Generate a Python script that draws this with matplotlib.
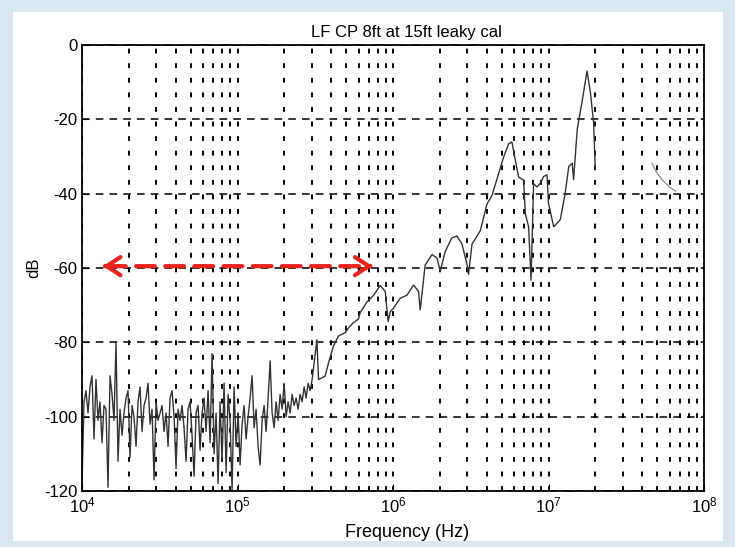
import matplotlib.pyplot as plt
from matplotlib.patches import Rectangle
import numpy as np

plt.rcParams['font.family'] = ['Liberation Sans', 'DejaVu Sans']
plt.rcParams['axes.unicode_minus'] = False

title = 'LF CP 8ft at 15ft leaky cal'

# noisy floor, 10 kHz .. ~300 kHz
noise_db = [-118, -96, -93, -99, -92, -89, -106, -90, -101, -96,
            -107, -97, -98, -119, -89, -94, -101, -80, -112, -98,
            -105, -99, -95, -93, -111, -97, -100, -108, -96, -92,
            -104, -97, -95, -91, -102, -98, -117, -96, -101, -99,
            -97, -104, -99, -108, -95, -93, -100, -114, -98, -101,
            -97, -103, -112, -98, -96, -105, -116, -99, -97, -109,
            -99, -95, -104, -93, -107, -83, -110, -99, -118, -96,
            -112, -91, -115, -94, -101, -120, -92, -108, -99, -113,
            -102, -97, -106, -100, -95, -89, -103, -98, -108, -113,
            -101, -97, -104, -95, -85, -99, -103, -96, -101, -94,
            -98, -91, -100, -96, -99, -94, -97, -95, -98, -94,
            -96, -92, -95, -91, -93, -90]
noise_hz = np.logspace(4, 5.48, len(noise_db))

# rising part up to the main resonance
rise_hz = [3.24e5, 3.32e5, 3.66e5, 3.85e5, 4.14e5, 4.46e5, 4.92e5, 5.30e5, 5.57e5, 6.00e5,
           6.15e5, 6.79e5, 7.49e5, 8.27e5, 8.91e5, 9.31e5, 9.59e5, 1.003e6, 1.11e6, 1.23e6,
           1.355e6, 1.46e6, 1.496e6, 1.61e6, 1.78e6, 1.92e6, 2.01e6, 2.17e6, 2.39e6, 2.58e6,
           2.78e6, 2.99e6, 3.06e6, 3.22e6, 3.64e6, 4.02e6, 4.33e6, 4.77e6, 5.14e6, 5.54e6,
           5.82e6, 6.12e6, 6.42e6, 6.92e6, 7.09e6, 7.45e6, 7.72e6, 8.02e6, 8.43e6, 8.86e6,
           9.30e6, 9.78e6, 1.00e7, 1.08e7, 1.19e7, 1.28e7, 1.35e7, 1.42e7, 1.45e7, 1.53e7,
           1.64e7, 1.77e7, 1.86e7, 1.95e7, 2.00e7]
rise_db = [-79.3, -90.0, -89.1, -85.5, -81.0, -78.3, -77.4, -75.6, -74.7, -73.7,
           -72.0, -69.2, -67.4, -64.7, -66.3, -74.4, -71.8, -70.9, -68.2, -67.3,
           -64.6, -66.3, -71.3, -59.2, -56.4, -57.3, -60.9, -55.5, -51.9, -51.4,
           -53.6, -59.0, -61.7, -53.6, -50.0, -42.8, -40.5, -34.7, -30.2, -26.6,
           -26.1, -31.0, -35.5, -36.4, -45.4, -48.9, -63.3, -37.3, -38.2, -37.2,
           -35.4, -34.9, -42.6, -48.9, -47.0, -39.9, -32.7, -31.8, -36.2, -22.7,
           -15.5, -7.0, -12.8, -20.9, -33.4]

# faint fragment near 50 MHz
tail_hz = [4.63e7, 4.99e7, 5.50e7, 6.08e7, 6.55e7]
tail_db = [-31.8, -34.5, -36.7, -38.4, -39.3]

# red double arrow drawn over the scan
arrow_hz = [1.36e4, 7.4e5]
arrow_db = -59.5

fig = plt.figure(figsize=(7.35, 5.47), dpi=100, facecolor='#d9e8f0')
fig.patches.append(Rectangle((13/735, 6/547), 710/735, 529/547, transform=fig.transFigure,
                             facecolor='white', edgecolor='none', zorder=-5))
ax = fig.add_axes([82/735, 56/547, 622/735, 446/547])

hz = np.concatenate([noise_hz, rise_hz])
db = np.concatenate([noise_db, rise_db])
ax.semilogx(hz, db, color='#333333', lw=1.0)
ax.semilogx(tail_hz, tail_db, color='#8a8a8a', lw=0.9)

ax.set_xlim(1e4, 1e8)
ax.set_ylim(-120, 0)
ax.set_yticks(np.arange(-120, 1, 20))

ax.grid(True, which='major', axis='y', color='k', linestyle=(0, (5, 4)), lw=1.1)
ax.grid(True, which='both', axis='x', color='k', linestyle=(0, (2.5, 5)), lw=1.4)
ax.tick_params(which='both', direction='in', labelsize=12, colors='k')
ax.tick_params(which='major', length=5)
ax.tick_params(which='minor', length=3)
for s in ax.spines.values():
    s.set_linewidth(1.3)

# the scanned title and x label sit a little right of centre
ax.set_title(title, fontsize=12, pad=6, x=0.522)
ax.set_xlabel('Frequency (Hz)', fontsize=13, labelpad=2)
ax.xaxis.set_label_coords(0.522, -0.075)
ax.set_ylabel('dB', fontsize=12, labelpad=2)

red = '#e8221c'
ax.annotate('', xy=(arrow_hz[1], arrow_db), xytext=(arrow_hz[0], arrow_db),
            arrowprops=dict(arrowstyle='-', color=red, lw=3, linestyle=(0, (4.5, 2.5)),
                            shrinkA=3, shrinkB=3))
for end, start in [(arrow_hz[0], arrow_hz[0] * 1.05), (arrow_hz[1], arrow_hz[1] / 1.05)]:
    ax.annotate('', xy=(end, arrow_db), xytext=(start, arrow_db),
                arrowprops=dict(arrowstyle='->, head_length=1.0, head_width=0.65', color=red,
                                lw=3, shrinkA=0, shrinkB=0))

fig.savefig('out.png', dpi=100, facecolor=fig.get_facecolor())
